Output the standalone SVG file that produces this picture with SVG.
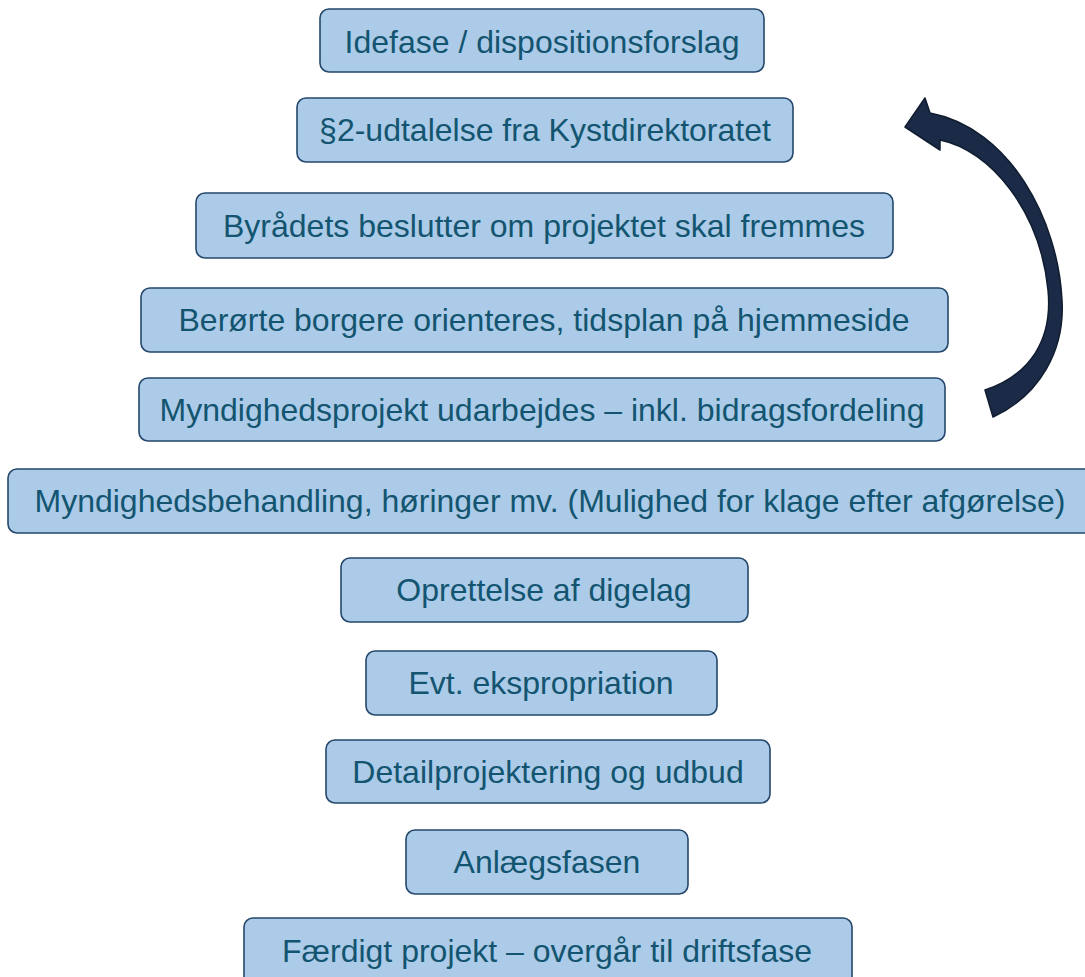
<svg xmlns="http://www.w3.org/2000/svg" width="1085" height="977" viewBox="0 0 1085 977">
<style>
.box{fill:#abcbe8;stroke:#24476b;stroke-width:1.6}
.t{font-family:"Liberation Sans",Arial,sans-serif;font-size:32px;fill:#135570;text-anchor:middle}
.arr{fill:#1b2a46;stroke:#101c30;stroke-width:1.5;stroke-linejoin:round}
</style>
<rect width="1085" height="977" fill="#ffffff"/>
<g id="n1"><rect class="box" x="320" y="9" width="444" height="63" rx="9"/><text class="t" x="542" y="53">Idefase / dispositionsforslag</text></g>
<g id="n2"><rect class="box" x="297" y="98" width="496" height="64" rx="9"/><text class="t" x="545" y="141">§2-udtalelse fra Kystdirektoratet</text></g>
<g id="n3"><rect class="box" x="196" y="193" width="697" height="65" rx="9"/><text class="t" x="544" y="237">Byrådets beslutter om projektet skal fremmes</text></g>
<g id="n4"><rect class="box" x="141" y="288" width="807" height="64" rx="9"/><text class="t" x="544" y="331">Berørte borgere orienteres, tidsplan på hjemmeside</text></g>
<g id="n5"><rect class="box" x="139" y="378" width="806" height="63" rx="9"/><text class="t" x="542" y="421">Myndighedsprojekt udarbejdes – inkl. bidragsfordeling</text></g>
<g id="n6"><rect class="box" x="8" y="469" width="1090" height="64" rx="9"/><text class="t" x="550" y="512">Myndighedsbehandling, høringer mv. (Mulighed for klage efter afgørelse)</text></g>
<g id="n7"><rect class="box" x="341" y="558" width="407" height="64" rx="9"/><text class="t" x="544" y="601">Oprettelse af digelag</text></g>
<g id="n8"><rect class="box" x="366" y="651" width="351" height="64" rx="9"/><text class="t" x="541" y="694">Evt. ekspropriation</text></g>
<g id="n9"><rect class="box" x="326" y="740" width="444" height="63" rx="9"/><text class="t" x="548" y="783">Detailprojektering og udbud</text></g>
<g id="n10"><rect class="box" x="406" y="830" width="282" height="64" rx="9"/><text class="t" x="547" y="873">Anlægsfasen</text></g>
<g id="n11"><rect class="box" x="244" y="918" width="608" height="70" rx="9"/><text class="t" x="547" y="962">Færdigt projekt – overgår til driftsfase</text></g>
<g id="connectors">
<path class="arr" d="M993,417 C1040,395 1065,350 1062,300 C1058,220 1010,128 930,113 L925,98 L905,127 L940,150 L940,140 C990,150 1040,210 1048,290 C1053,340 1030,375 985,390 Z"/>
</g>
</svg>
